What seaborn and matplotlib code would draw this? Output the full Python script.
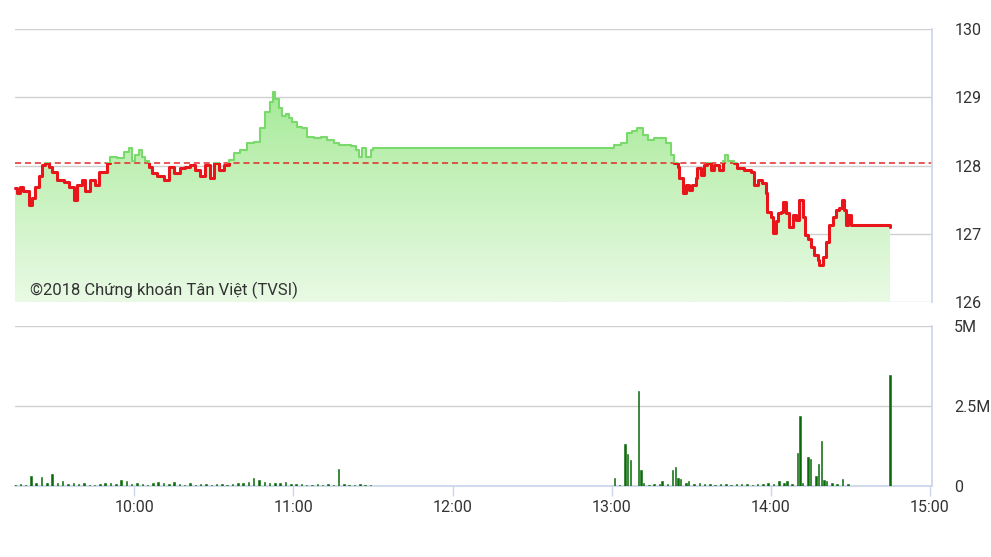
import numpy as np
import matplotlib
matplotlib.use("Agg")
import matplotlib.pyplot as plt
import seaborn as sns
from matplotlib.colors import LinearSegmentedColormap
from matplotlib.patches import Rectangle

# time axis: minutes after 9:00
price_minutes = [
    15.1, 15.7, 17.0, 18.2, 20.1, 21.4, 22.6, 23.9, 25.2, 26.4, 27.7, 28.9, 30.8, 33.3,
    35.2, 37.1, 38.4, 40.3, 41.5, 43.4, 45.3, 46.5, 48.4, 49.7, 50.9, 53.5, 56.0, 57.8,
    59.1, 60.4, 61.6, 62.9, 64.2, 65.4, 66.7, 68.6, 71.1, 72.9, 74.8, 77.4, 79.2, 81.1,
    83.0, 84.9, 86.8, 88.7, 89.9, 91.8, 93.7, 95.6, 97.5, 100.0, 102.5, 105.0, 107.5,
    109.4, 111.3, 112.3, 113.2, 114.5, 115.7, 117.0, 118.2, 119.5, 121.4, 123.3, 125.2,
    127.7, 130.2, 132.7, 135.2, 137.1, 139.0, 141.5, 143.4, 144.6, 145.9, 147.2, 149.1,
    150.0, 240.3, 240.9, 243.4, 245.9, 247.8, 249.7, 251.6, 253.5, 256.0, 258.5, 260.4,
    262.3, 263.5, 264.8, 265.4, 266.7, 267.9, 269.2, 270.4, 271.7, 272.3, 273.6, 274.8,
    276.1, 277.4, 278.6, 280.5, 281.8, 282.6, 283.7, 286.2, 287.4, 289.9, 292.5, 293.7,
    295.0, 296.8, 298.1, 298.7, 300.0, 300.9, 301.9, 302.5, 303.8, 304.4, 305.7, 306.9,
    308.2, 309.5, 310.7, 312.0, 312.8, 313.9, 315.1, 316.3, 317.6, 318.2, 319.5, 320.7,
    322.0, 323.3, 324.5, 325.8, 326.8, 327.7, 328.3, 329.2, 330.2, 345.0,
]
price_values = [
    127.67, 127.60, 127.68, 127.62, 127.42, 127.52, 127.69, 127.84, 128.01, 128.03, 127.98,
    127.91, 127.79, 127.76, 127.69, 127.49, 127.71, 127.79, 127.62, 127.79, 127.71, 127.91,
    127.91, 128.03, 128.13, 128.11, 128.20, 128.25, 128.06, 128.15, 128.23, 128.13, 128.06,
    127.98, 127.89, 127.84, 127.79, 127.98, 127.89, 127.96, 127.98, 128.01, 127.93, 127.84,
    128.01, 127.81, 128.03, 127.93, 128.01, 128.08, 128.18, 128.23, 128.33, 128.35, 128.55,
    128.79, 128.93, 129.07, 128.98, 128.84, 128.72, 128.76, 128.69, 128.64, 128.57, 128.55,
    128.42, 128.40, 128.42, 128.37, 128.33, 128.30, 128.30, 128.28, 128.23, 128.13, 128.25,
    128.13, 128.23, 128.25, 128.25, 128.30, 128.33, 128.47, 128.50, 128.55, 128.45, 128.38,
    128.40, 128.40, 128.33, 128.15, 128.03, 127.98, 127.81, 127.59, 127.71, 127.64, 127.71,
    127.81, 127.96, 127.86, 128.01, 128.03, 127.93, 128.01, 127.93, 128.06, 128.15, 128.06,
    128.03, 127.96, 127.93, 127.91, 127.71, 127.79, 127.74, 127.59, 127.32, 127.25, 127.01,
    127.18, 127.30, 127.32, 127.47, 127.30, 127.10, 127.27, 127.20, 127.49, 127.25, 126.98,
    126.93, 126.81, 126.69, 126.62, 126.54, 126.66, 126.88, 127.13, 127.25, 127.35, 127.37,
    127.49, 127.35, 127.13, 127.27, 127.13, 127.10,
]
ref_price = 128.03

vol_minutes = [
    15, 17, 19, 21, 23, 25, 27, 29, 31, 33, 35, 37, 39, 41, 43, 45, 47, 49, 51, 53, 55, 57,
    59, 61, 63, 65, 67, 69, 71, 73, 75, 77, 79, 81, 83, 85, 87, 89, 91, 93, 95, 97, 99, 101,
    103, 105, 107, 109, 111, 113, 115, 117, 119, 121, 123, 125, 127, 129, 131, 133, 135,
    137, 139, 141, 143, 145, 147, 149,
    241, 243, 245, 246, 247, 250, 251, 252, 254, 256, 258, 259, 261, 263, 264, 265, 266,
    268, 269, 271, 273, 275, 277, 279, 281, 283, 285, 287, 289, 291, 293, 295, 297, 299,
    301, 303, 305, 306, 308, 310, 311, 312, 314, 315, 317, 318, 319, 320, 321, 323, 325,
    327, 329, 345,
]
vol_values = [  # millions
    0.03, 0.05, 0.04, 0.31, 0.10, 0.28, 0.08, 0.36, 0.09, 0.17, 0.06, 0.10, 0.05, 0.09,
    0.04, 0.03, 0.07, 0.09, 0.10, 0.05, 0.19, 0.15, 0.06, 0.08, 0.07, 0.04, 0.09, 0.11,
    0.08, 0.05, 0.12, 0.06, 0.04, 0.08, 0.03, 0.05, 0.06, 0.04, 0.07, 0.05, 0.03, 0.06,
    0.08, 0.10, 0.14, 0.25, 0.18, 0.12, 0.10, 0.08, 0.09, 0.12, 0.07, 0.05, 0.06, 0.03,
    0.04, 0.05, 0.03, 0.06, 0.04, 0.53, 0.05, 0.04, 0.03, 0.06, 0.04, 0.03,
    0.24, 0.04, 1.30, 1.00, 0.81, 2.98, 0.50, 0.08, 0.04, 0.06, 0.05, 0.15, 0.06, 0.50,
    0.60, 0.24, 0.22, 0.08, 0.17, 0.06, 0.08, 0.05, 0.06, 0.04, 0.05, 0.07, 0.04, 0.06,
    0.05, 0.07, 0.04, 0.06, 0.05, 0.08, 0.06, 0.17, 0.08, 0.15, 0.06, 1.02, 2.20, 0.10,
    0.92, 0.83, 0.30, 0.70, 1.40, 0.20, 0.17, 0.08, 0.06, 0.22, 0.05, 3.46,
]

hour_ticks = [60, 120, 180, 240, 300, 360]
hour_labels = ["10:00", "11:00", "12:00", "13:00", "14:00", "15:00"]
price_ticks = [126, 127, 128, 129, 130]
vol_ticks = [0, 2.5, 5]
vol_labels = ["0", "2.5M", "5M"]

sns.set_theme(style="white")
plt.rcParams["font.family"] = ["Roboto", "DejaVu Sans"]

W, H = 991, 557
fig = plt.figure(figsize=(W / 100, H / 100), dpi=100)
x_lim = (15, 360.75)
grid_c = "#d0d0d0"
axis_c = "#ccd6eb"
text_c = "#333333"

# ---- price panel
ax1 = fig.add_axes([15 / W, 255 / H, 917 / W, 273 / H])
t = np.array(price_minutes)
p = np.array(price_values)

poly = ax1.fill_between(t, p, 126, color="none", lw=0, step="post")
cmap = LinearSegmentedColormap.from_list("g", ["#e9fae5", "#c0f0b5", "#8ee57f"])
grad = np.linspace(0, 1, 256).reshape(-1, 1)
img = ax1.imshow(grad, extent=[t[0], t[-1], 126, 130], origin="lower",
                 aspect="auto", cmap=cmap, zorder=1)
img.set_clip_path(poly.get_paths()[0], transform=ax1.transData)

ax1.axhline(ref_price, color="#e02a2a", lw=1.1, ls=(0, (4, 2.5)), zorder=2)

sns.lineplot(x=t, y=p, ax=ax1, color="#79da6b", lw=1.5, sort=False, estimator=None,
             drawstyle="steps-post", zorder=3)
sns.lineplot(x=t, y=p, ax=ax1, color="#e8151b", lw=2.2, sort=False, estimator=None,
             drawstyle="steps-post", zorder=4)
up, down = ax1.lines[-2], ax1.lines[-1]
up.set_clip_path(Rectangle((0, ref_price), 400, 10, transform=ax1.transData))
down.set_clip_path(Rectangle((0, 120), 400, ref_price - 120, transform=ax1.transData))

ax1.set_xlim(*x_lim)
ax1.set_ylim(126, 130)
ax1.set_yticks(price_ticks)
ax1.set_xticks([])
ax1.yaxis.tick_right()
ax1.tick_params(axis="y", length=0, pad=16, labelsize=11.5, labelcolor=text_c)
ax1.grid(axis="y", color=grid_c, lw=1)
for s in ["left", "top", "bottom"]:
    ax1.spines[s].set_visible(False)
ax1.spines["right"].set_color(axis_c)
ax1.set_xlabel("")
ax1.set_ylabel("")

fig.text(30 / W, 1 - 290 / H, "©2018 Chứng khoán Tân Việt (TVSI)", fontsize=12,
         color=text_c, va="center", ha="left")

# ---- volume panel
ax2 = fig.add_axes([15 / W, 71 / H, 917 / W, 160 / H])
ax2.bar(vol_minutes, vol_values, width=0.55, color="#0b6b0b", edgecolor="#0b6b0b",
        linewidth=0.4, zorder=3)
ax2.set_xlim(*x_lim)
ax2.set_ylim(0, 5)
ax2.set_yticks(vol_ticks)
ax2.set_yticklabels(vol_labels)
ax2.yaxis.tick_right()
ax2.set_xticks(hour_ticks)
ax2.set_xticklabels(hour_labels)
ax2.tick_params(axis="y", length=0, pad=16, labelsize=11.5, labelcolor=text_c)
ax2.tick_params(axis="x", length=7.2, width=1, color=axis_c, pad=3,
                labelsize=11.5, labelcolor=text_c, bottom=True)
ax2.grid(axis="y", color=grid_c, lw=1)
for s in ["left", "top"]:
    ax2.spines[s].set_visible(False)
ax2.spines["right"].set_color(axis_c)
ax2.spines["bottom"].set_color(axis_c)

fig.savefig("out.png", dpi=100)
